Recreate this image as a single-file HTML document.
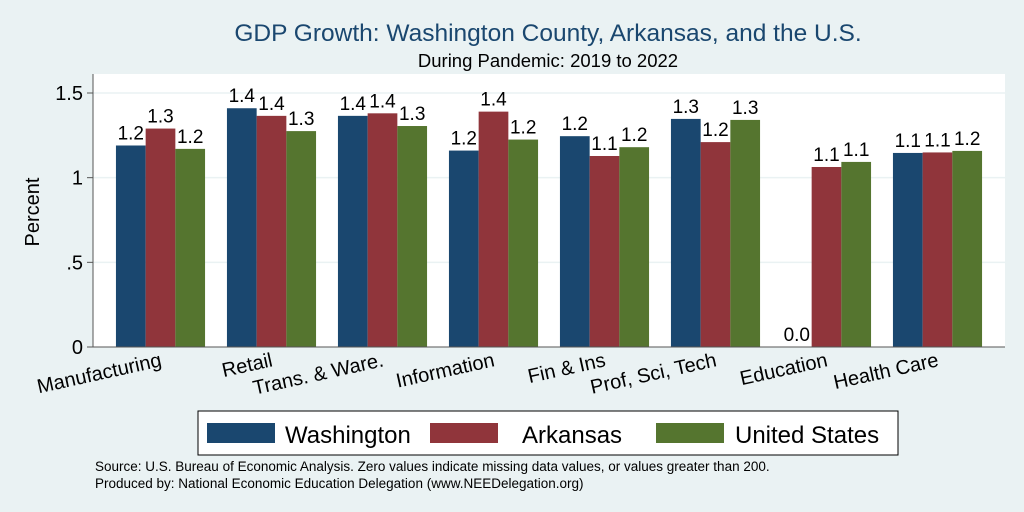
<!DOCTYPE html>
<html><head><meta charset="utf-8"><style>
body{margin:0;background:#eaf2f3;}
svg{display:block;font-family:"Liberation Sans",Arial,sans-serif;}
</style></head><body>
<svg width="1024" height="512">
<rect x="0" y="0" width="1024" height="512" fill="#eaf2f3"/>
<text x="548" y="41" font-size="24.5" fill="#1a476f" text-anchor="middle">GDP Growth: Washington County, Arkansas, and the U.S.</text>
<text x="548" y="67" font-size="18.5" fill="#000" text-anchor="middle">During Pandemic: 2019 to 2022</text>
<rect x="93" y="74" width="912" height="273" fill="#fff"/>
<g id="grid"></g>
<g id="bars"></g>
<line x1="93" y1="74" x2="93" y2="347" stroke="#555" stroke-width="1"/>
<line x1="93" y1="347" x2="1005" y2="347" stroke="#555" stroke-width="1"/>
<text transform="translate(39,212) rotate(-90)" font-size="20" text-anchor="middle">Percent</text>
<g>
<rect x="198" y="411" width="700" height="44" fill="#fff" stroke="#000" stroke-width="1"/>
<rect x="207" y="423" width="68" height="20" fill="#1a476f"/>
<text x="285" y="443" font-size="24">Washington</text>
<rect x="430" y="423" width="68" height="20" fill="#90353b"/>
<text x="522" y="443" font-size="24">Arkansas</text>
<rect x="656" y="423" width="68" height="20" fill="#55752f"/>
<text x="735" y="443" font-size="24">United States</text>
</g>
<text x="95" y="471" font-size="13.5">Source: U.S. Bureau of Economic Analysis. Zero values indicate missing data values, or values greater than 200.</text>
<text x="95" y="488" font-size="13.5">Produced by: National Economic Education Delegation (www.NEEDelegation.org)</text>
</svg>
<script>
const categories=["Manufacturing","Retail","Trans. & Ware.","Information","Fin & Ins","Prof, Sci, Tech","Education","Health Care"];
const washington=[1.19,1.41,1.365,1.16,1.245,1.347,0,1.146];
const arkansas=[1.29,1.365,1.38,1.39,1.128,1.21,1.063,1.149];
const unitedStates=[1.17,1.275,1.305,1.225,1.18,1.341,1.093,1.158];
const yTicks=[0,0.5,1,1.5];
const yTickLabels=["0",".5","1","1.5"];
const NS="http://www.w3.org/2000/svg";
const y0=347,yScale=(347-93)/1.5;
function yPos(v){return y0-v*yScale;}
function xCenter(i){return 160.5+i*111;}
const bw=29.7;
const grid=document.getElementById('grid');
const bars=document.getElementById('bars');
function mk(tag,attrs,parent){const e=document.createElementNS(NS,tag);for(const k in attrs)e.setAttribute(k,attrs[k]);parent.appendChild(e);return e;}
yTicks.forEach((t,i)=>{
  if(t>0){const g=mk('line',{x1:93,x2:1005,y1:yPos(t),y2:yPos(t),stroke:'#eaf2f3','stroke-width':1.5},grid);
  
  }
  const tk=mk('line',{x1:87,x2:93,y1:yPos(t),y2:yPos(t),stroke:'#555'},grid);
  
  
  const tl=mk('text',{x:83,y:yPos(t)+7,'font-size':20,'text-anchor':'end'},grid);
  tl.textContent=yTickLabels[i];
  
  
});
const series=[washington,arkansas,unitedStates];
const colors=["#1a476f","#90353b","#55752f"];
const names=["washington","arkansas","us"];
categories.forEach((c,i)=>{
  series.forEach((s,j)=>{
    const v=s[i];const x=xCenter(i)-1.5*bw+j*bw;
    if(v>0){const r=mk('rect',{x:x,y:yPos(v),width:bw,height:y0-yPos(v),fill:colors[j]},bars);
    
    }
    const t=mk('text',{x:x+bw/2,y:yPos(v)-6,'font-size':19,'text-anchor':'middle'},bars);
    t.textContent=v.toFixed(1);
    
    
  });
  const ly=366;
  const lx=xCenter(i)+2;
  const lbl=mk('text',{x:lx,y:ly,'font-size':20,'text-anchor':'end',transform:'rotate(-12.5 '+lx+' '+ly+')'},bars);
  lbl.textContent=c;
  
  
});
</script>
</body></html>
